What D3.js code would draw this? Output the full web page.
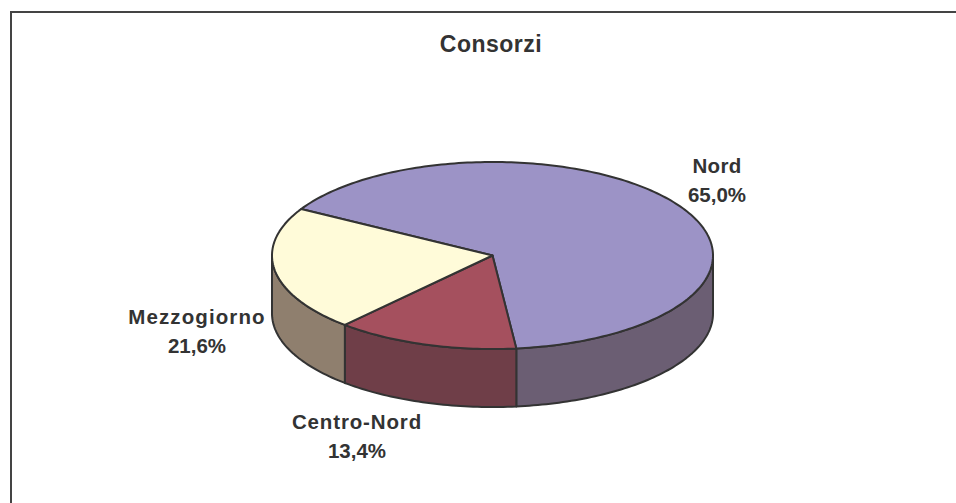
<!DOCTYPE html>
<html>
<head>
<meta charset="utf-8">
<script src="https://cdn.jsdelivr.net/npm/d3@7"></script>
<style>
  html, body { margin: 0; padding: 0; background: #fff; }
  svg { display: block; }
  text { font-family: "Liberation Sans", Arial, sans-serif; font-weight: bold; fill: #333; }
</style>
</head>
<body>
<div id="chart"></div>
<script>
// data
var categories = ["Nord", "Centro-Nord", "Mezzogiorno"];
var shares = [65.0, 13.4, 21.6];
var topColors = ["#9c93c6", "#a5505e", "#fffbd9"];
var sideColors = ["#6b5e73", "#6f3e48", "#8f7f6e"];

var fullWidth = 956,
  fullHeight = 503,
  cx = 492.5,
  cy = 255.5,
  rx = 220.5,
  ry = 93.5,
  depth = 58,
  startAngle = -60.2 * Math.PI / 180;

var svg = d3.select("#chart").append("svg")
  .attr("width", fullWidth)
  .attr("height", fullHeight);

// chart frame, only top and left are inside the crop
svg.append("path")
  .attr("d", "M11," + fullHeight + "V12H" + fullWidth)
  .attr("fill", "none")
  .attr("stroke", "#444")
  .attr("stroke-width", 2);

var slices = d3.pie()
  .sort(null)
  .startAngle(startAngle)
  .endAngle(startAngle + 2 * Math.PI)
  .value(function(d) { return d; })(shares);

var xScale = d3.scaleLinear().domain([-1, 1]).range([cx - rx, cx + rx]);
var yScale = d3.scaleLinear().domain([-1, 1]).range([cy - ry, cy + ry]);

// point on the rim for a pie angle (0 = up, clockwise)
function rim(a, drop) {
  return [xScale(Math.sin(a)), yScale(-Math.cos(a)) + (drop || 0)];
}

function arcPoints(a0, a1, drop) {
  var n = Math.max(2, Math.ceil((a1 - a0) / 0.02));
  return d3.range(n + 1).map(function(i) {
    return rim(a0 + (a1 - a0) * i / n, drop);
  });
}

var line = d3.line();

// side walls: only the part of the rim facing the viewer (90deg..270deg)
var sides = svg.append("g");
slices.forEach(function(s, i) {
  var lo = Math.PI / 2, hi = 3 * Math.PI / 2;
  [0, 2 * Math.PI].forEach(function(shift) {
    var a0 = Math.max(s.startAngle, lo + shift),
      a1 = Math.min(s.endAngle, hi + shift);
    if (a1 <= a0) return;
    var pts = arcPoints(a0, a1, 0).concat(arcPoints(a0, a1, depth).reverse());
    sides.append("path")
      .attr("d", line(pts) + "Z")
      .attr("fill", sideColors[i])
      .attr("stroke", "#333")
      .attr("stroke-width", 2)
      .attr("stroke-linejoin", "round");
  });
});

// top face
var tops = svg.append("g");
slices.forEach(function(s, i) {
  var pts = [[xScale(0), yScale(0)]].concat(arcPoints(s.startAngle, s.endAngle, 0));
  tops.append("path")
    .attr("d", line(pts) + "Z")
    .attr("fill", topColors[i])
    .attr("stroke", "#333")
    .attr("stroke-width", 2)
    .attr("stroke-linejoin", "round");
});

// title
svg.append("text")
  .attr("x", 491)
  .attr("y", 52)
  .attr("text-anchor", "middle")
  .style("font-size", "23px")
  .style("letter-spacing", "0.5px")
  .text("Consorzi");

// labels, anchor centres
var labelX = [717, 357, 197];
var labelY = [173, 429, 324];
var labelSpacing = [0.3, 0.85, 1.1];
var fmt = function(v) { return v.toFixed(1).replace(".", ",") + "%"; };

categories.forEach(function(name, i) {
  var g = svg.append("g")
    .attr("transform", "translate(" + labelX[i] + "," + labelY[i] + ")");
  g.append("text")
    .attr("text-anchor", "middle")
    .style("font-size", "20.5px")
    .style("letter-spacing", labelSpacing[i] + "px")
    .text(name);
  g.append("text")
    .attr("y", 29)
    .attr("text-anchor", "middle")
    .style("font-size", "20.5px")
    .text(fmt(shares[i]));
});
</script>
</body>
</html>
